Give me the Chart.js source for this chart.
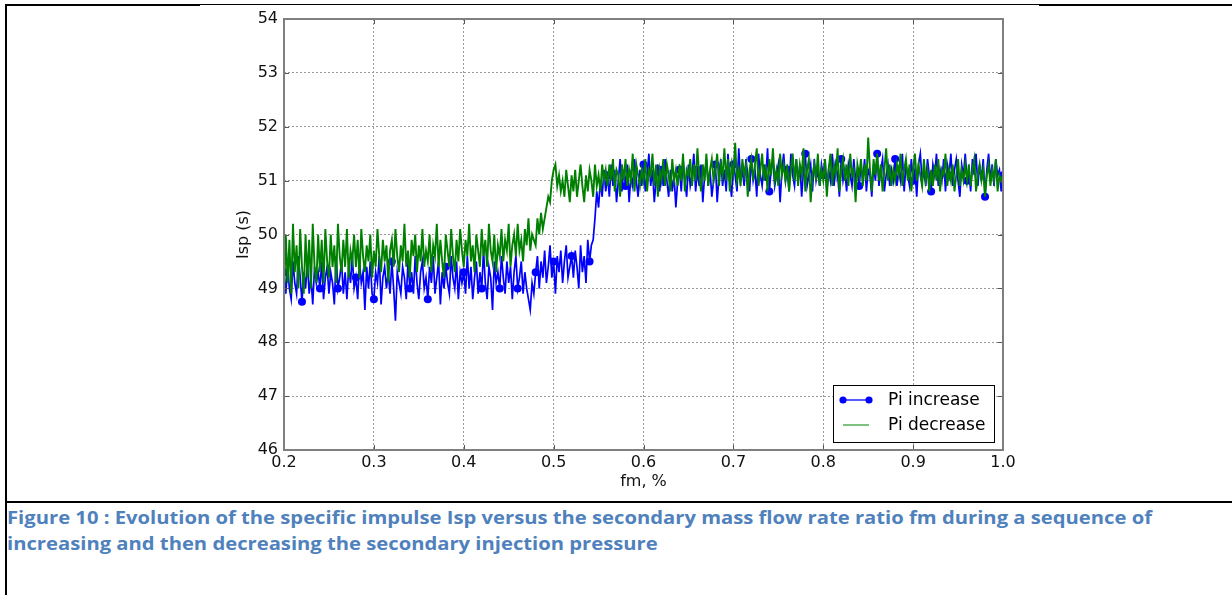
<!DOCTYPE html>
<html>
<head>
<meta charset="utf-8">
<script src="https://cdn.jsdelivr.net/npm/chart.js@4.4.1/dist/chart.umd.min.js"></script>
<style>
  html, body { margin: 0; padding: 0; background: #fff; }
  body { width: 1232px; height: 595px; position: relative; overflow: hidden; }
  .rule { position: absolute; background: #000; }
  #plot { position: absolute; left: 0; top: 0; }
  #caption {
    position: absolute; left: 7px; top: 505px;
    font-family: "Open Sans", Lato, sans-serif; font-weight: bold;
    font-size: 17px; line-height: 26px; color: #4f81bd;
  }
  #caption span { display: inline-block; white-space: nowrap; transform-origin: 0 50%; }
</style>
</head>
<body>
<div class="rule" style="left:5px;top:4px;width:195px;height:2px"></div>
<div class="rule" style="left:200px;top:4px;width:840px;height:1px"></div>
<div class="rule" style="left:1039px;top:4px;width:193px;height:2px"></div>
<div class="rule" style="left:5px;top:4px;width:2px;height:591px"></div>
<div class="rule" style="left:5px;top:501px;width:1227px;height:2px"></div>
<canvas id="plot" width="1232" height="500"></canvas>
<div id="caption">
  <span>Figure 10 : Evolution of the specific impulse Isp versus the secondary mass flow rate ratio fm during a sequence of</span><br>
  <span>increasing and then decreasing the secondary injection pressure</span>
</div>
<script>
// secondary mass flow rate ratio fm (%) — common abscissa of both runs
const FM = [
  0.200,0.202,0.204,0.206,0.208,0.210,0.212,0.214,0.216,0.218,0.220,0.222,0.224,0.226,0.228,0.230,0.232,0.234,0.236,0.238,
  0.240,0.242,0.244,0.246,0.248,0.250,0.252,0.254,0.256,0.258,0.260,0.262,0.264,0.266,0.268,0.270,0.272,0.274,0.276,0.278,
  0.280,0.282,0.284,0.286,0.288,0.290,0.292,0.294,0.296,0.298,0.300,0.302,0.304,0.306,0.308,0.310,0.312,0.314,0.316,0.318,
  0.320,0.322,0.324,0.326,0.328,0.330,0.332,0.334,0.336,0.338,0.340,0.342,0.344,0.346,0.348,0.350,0.352,0.354,0.356,0.358,
  0.360,0.362,0.364,0.366,0.368,0.370,0.372,0.374,0.376,0.378,0.380,0.382,0.384,0.386,0.388,0.390,0.392,0.394,0.396,0.398,
  0.400,0.402,0.404,0.406,0.408,0.410,0.412,0.414,0.416,0.418,0.420,0.422,0.424,0.426,0.428,0.430,0.432,0.434,0.436,0.438,
  0.440,0.442,0.444,0.446,0.448,0.450,0.452,0.454,0.456,0.458,0.460,0.462,0.464,0.466,0.468,0.470,0.472,0.474,0.476,0.478,
  0.480,0.482,0.484,0.486,0.488,0.490,0.492,0.494,0.496,0.498,0.500,0.502,0.504,0.506,0.508,0.510,0.512,0.514,0.516,0.518,
  0.520,0.522,0.524,0.526,0.528,0.530,0.532,0.534,0.536,0.538,0.540,0.542,0.544,0.546,0.548,0.550,0.552,0.554,0.556,0.558,
  0.560,0.562,0.564,0.566,0.568,0.570,0.572,0.574,0.576,0.578,0.580,0.582,0.584,0.586,0.588,0.590,0.592,0.594,0.596,0.598,
  0.600,0.602,0.604,0.606,0.608,0.610,0.612,0.614,0.616,0.618,0.620,0.622,0.624,0.626,0.628,0.630,0.632,0.634,0.636,0.638,
  0.640,0.642,0.644,0.646,0.648,0.650,0.652,0.654,0.656,0.658,0.660,0.662,0.664,0.666,0.668,0.670,0.672,0.674,0.676,0.678,
  0.680,0.682,0.684,0.686,0.688,0.690,0.692,0.694,0.696,0.698,0.700,0.702,0.704,0.706,0.708,0.710,0.712,0.714,0.716,0.718,
  0.720,0.722,0.724,0.726,0.728,0.730,0.732,0.734,0.736,0.738,0.740,0.742,0.744,0.746,0.748,0.750,0.752,0.754,0.756,0.758,
  0.760,0.762,0.764,0.766,0.768,0.770,0.772,0.774,0.776,0.778,0.780,0.782,0.784,0.786,0.788,0.790,0.792,0.794,0.796,0.798,
  0.800,0.802,0.804,0.806,0.808,0.810,0.812,0.814,0.816,0.818,0.820,0.822,0.824,0.826,0.828,0.830,0.832,0.834,0.836,0.838,
  0.840,0.842,0.844,0.846,0.848,0.850,0.852,0.854,0.856,0.858,0.860,0.862,0.864,0.866,0.868,0.870,0.872,0.874,0.876,0.878,
  0.880,0.882,0.884,0.886,0.888,0.890,0.892,0.894,0.896,0.898,0.900,0.902,0.904,0.906,0.908,0.910,0.912,0.914,0.916,0.918,
  0.920,0.922,0.924,0.926,0.928,0.930,0.932,0.934,0.936,0.938,0.940,0.942,0.944,0.946,0.948,0.950,0.952,0.954,0.956,0.958,
  0.960,0.962,0.964,0.966,0.968,0.970,0.972,0.974,0.976,0.978,0.980,0.982,0.984,0.986,0.988,0.990,0.992,0.994,0.996,0.998,
  1.000
];

// Isp (s) while the injection pressure goes up
const ISP_PI_INCREASE = [
  49.3,48.9,49.4,49.0,48.8,49.5,49.1,48.9,49.6,49.2,48.75,49.3,49.0,49.5,48.9,49.2,48.7,49.4,49.1,49.3,
  49.0,49.5,48.8,49.2,49.4,48.9,49.3,49.1,48.7,49.6,49.0,49.2,49.5,48.9,49.3,48.8,49.4,49.1,49.6,49.0,
  49.2,48.8,49.5,49.1,49.3,48.6,49.4,49.0,49.5,48.9,48.8,49.3,49.1,49.6,48.7,49.2,49.4,49.0,49.3,48.9,
  49.5,49.0,48.4,49.3,49.1,48.9,49.4,49.2,48.8,49.5,49.0,49.3,48.9,49.6,49.1,48.8,49.3,49.5,49.0,49.2,
  48.8,49.4,49.1,49.6,48.9,49.2,49.5,48.7,49.3,49.0,49.4,49.1,48.9,49.6,49.2,49.0,49.5,48.8,49.3,49.1,
  49.3,48.9,49.6,49.0,49.4,48.8,49.2,49.5,48.9,49.3,49.0,49.7,49.1,48.8,49.4,49.2,48.6,49.5,49.1,49.3,
  49.0,49.6,49.2,48.9,49.5,49.1,49.4,48.8,49.3,49.6,49.0,49.2,49.5,48.9,49.3,49.0,48.8,48.6,49.1,48.9,
  49.3,49.6,49.0,49.5,49.2,49.7,49.1,49.4,49.8,49.2,49.5,48.9,49.6,49.3,49.7,49.1,49.5,49.8,49.2,49.4,
  49.6,49.2,49.7,49.4,49.0,49.8,49.3,49.6,49.1,49.9,49.5,49.8,49.9,50.3,50.8,50.5,51.0,50.7,51.2,50.8,
  51.1,50.7,51.3,50.9,51.2,50.6,51.0,51.4,50.8,51.2,50.9,51.3,50.6,51.1,50.9,51.4,51.0,50.7,51.2,50.9,
  51.3,50.8,51.1,51.5,50.9,51.2,50.6,51.0,51.3,50.8,51.2,50.9,51.4,51.0,50.7,51.2,50.8,51.1,50.5,51.0,
  51.2,50.8,51.4,51.0,50.7,51.3,50.9,51.1,51.5,50.8,51.2,50.9,51.3,50.6,51.1,51.4,50.9,51.2,50.7,51.0,
  51.3,50.6,51.1,51.4,50.9,51.2,50.8,51.5,51.0,50.7,51.3,51.1,50.8,51.6,51.0,51.2,50.9,51.4,51.1,50.8,
  51.4,51.0,51.2,50.7,51.5,51.1,50.9,51.3,51.0,51.6,50.8,51.2,51.4,50.9,51.1,51.3,50.6,51.2,51.5,51.0,
  51.2,50.8,51.5,51.1,50.9,51.4,51.0,51.3,50.7,51.2,51.5,50.9,51.1,51.3,50.8,51.4,51.0,51.2,50.9,51.3,
  51.1,51.4,50.8,51.2,51.0,51.5,50.9,51.3,51.1,50.7,51.4,51.0,51.2,50.8,51.3,51.1,50.9,51.4,51.0,51.2,
  50.9,51.3,51.0,51.4,50.8,51.2,51.1,50.7,51.3,51.0,51.5,50.9,51.2,51.4,50.8,51.1,51.3,50.9,51.2,51.0,
  51.4,50.9,51.2,51.0,51.5,50.8,51.3,51.1,50.9,51.4,51.0,51.2,50.7,51.3,51.5,51.0,51.2,50.9,51.4,51.1,
  50.8,51.3,51.1,51.5,50.9,51.2,51.0,51.4,50.8,51.3,51.1,51.5,50.9,51.2,51.4,51.0,50.7,51.3,51.1,51.5,
  51.0,51.2,50.8,51.4,51.1,51.5,50.9,51.3,51.0,51.4,50.7,51.2,51.5,51.0,51.3,50.9,51.4,51.1,51.2,50.8,
  51.1
];

// Isp (s) while the injection pressure comes back down
const ISP_PI_DECREASE = [
  48.8,50.0,49.1,49.9,48.9,50.2,49.3,49.8,49.0,50.1,49.4,48.9,50.0,49.2,49.9,49.0,50.2,49.4,49.1,50.0,
  49.3,49.9,49.1,50.1,49.5,49.2,50.0,49.4,49.8,49.1,50.2,49.6,49.3,49.9,49.4,50.1,49.2,49.7,49.5,50.0,
  49.4,49.9,49.2,50.1,49.6,49.3,49.8,49.5,50.0,49.2,49.7,49.4,50.1,49.6,49.3,49.9,49.5,49.8,49.1,49.7,
  49.9,49.4,50.1,49.6,49.3,49.8,49.5,50.2,49.4,49.7,49.2,49.9,49.6,50.0,49.3,49.8,49.5,50.1,49.4,49.7,
  49.5,50.0,49.3,49.8,49.6,50.2,49.4,49.9,49.5,49.2,50.0,49.7,49.4,50.1,49.6,49.3,49.9,49.5,50.1,49.7,
  49.4,49.9,49.6,50.2,49.5,49.8,49.3,50.0,49.7,49.4,50.1,49.6,49.9,49.4,50.2,49.7,49.5,50.0,49.3,49.8,
  49.6,50.1,49.5,49.9,49.7,50.2,49.4,49.8,50.0,49.6,50.2,49.7,49.9,49.5,50.1,49.8,50.3,49.7,50.0,49.9,
  49.8,50.3,50.0,50.4,50.1,50.3,50.5,50.7,50.6,51.0,51.2,51.3,50.9,51.1,50.8,51.0,50.7,51.2,50.9,50.6,
  51.1,50.8,51.2,50.7,51.0,51.3,50.9,50.6,51.1,50.8,51.2,51.0,50.7,51.3,50.9,51.1,50.8,51.3,51.0,51.2,
  50.9,51.3,51.0,51.4,50.8,51.2,51.1,50.7,51.3,51.0,51.4,50.9,51.2,51.0,51.5,50.8,51.3,51.1,50.9,51.2,
  51.0,51.4,50.8,51.2,51.1,51.5,50.9,51.3,50.7,51.2,51.0,51.4,50.9,51.3,51.1,50.8,51.4,51.0,51.2,50.9,
  51.3,51.0,51.5,50.8,51.2,51.1,51.4,50.9,51.3,51.0,51.6,51.1,50.8,51.3,51.0,51.5,50.9,51.2,51.4,51.0,
  51.2,51.5,50.9,51.3,51.1,51.6,51.0,51.4,50.8,51.3,51.1,51.7,51.0,51.2,50.9,51.4,51.1,51.3,50.7,51.2,
  51.4,51.0,51.3,51.6,50.9,51.2,51.5,51.0,51.3,50.8,51.4,51.1,51.6,51.0,51.2,50.9,51.5,51.1,51.3,51.0,
  51.3,50.8,51.2,51.5,51.0,51.4,50.9,51.3,51.1,51.6,50.8,51.2,51.4,50.6,51.1,51.3,51.0,51.5,50.9,51.2,
  51.0,51.4,50.7,51.2,51.5,50.9,51.3,51.1,51.6,50.8,51.2,51.4,51.0,51.3,50.9,51.5,51.1,51.2,50.6,51.3,
  51.1,51.4,50.9,51.3,51.0,51.8,51.2,50.8,51.4,51.1,51.5,51.0,51.3,50.8,51.2,51.6,51.0,51.3,50.9,51.2,
  51.0,51.3,51.1,51.5,50.9,51.2,51.4,51.0,51.3,50.8,51.2,51.5,51.0,51.3,51.1,50.9,51.4,51.0,51.2,50.8,
  51.2,50.9,51.3,51.0,51.4,50.8,51.2,51.1,51.5,50.9,51.2,51.0,51.3,50.8,51.1,51.4,50.9,51.2,51.0,51.3,
  51.0,51.3,50.9,51.2,51.4,50.8,51.1,51.3,51.0,51.2,50.7,51.1,51.3,50.9,51.2,51.0,51.4,50.8,51.1,51.0,
  51.1
];

const SERIES_LABELS = ['Pi increase', 'Pi decrease'];
const X_RANGE = [0.2, 1.0];
const Y_RANGE = [46, 54];

const TICK_FONT = { family: 'DejaVu Sans', size: 16 };
const MARK_EVERY = 10;

// matplotlib-ish frame with inward ticks on all four sides
const framePlugin = {
  id: 'mplFrame',
  afterDatasetsDraw(chart) {
    const { ctx, chartArea: a, scales } = chart;
    ctx.save();
    ctx.strokeStyle = '#555';
    ctx.lineWidth = 1;
    ctx.beginPath();
    scales.x.ticks.forEach(t => {
      const px = Math.round(scales.x.getPixelForValue(t.value)) + 0.5;
      ctx.moveTo(px, a.bottom); ctx.lineTo(px, a.bottom - 5);
      ctx.moveTo(px, a.top); ctx.lineTo(px, a.top + 5);
    });
    scales.y.ticks.forEach(t => {
      const py = Math.round(scales.y.getPixelForValue(t.value)) + 0.5;
      ctx.moveTo(a.left, py); ctx.lineTo(a.left + 5, py);
      ctx.moveTo(a.right, py); ctx.lineTo(a.right - 5, py);
    });
    ctx.stroke();
    ctx.strokeStyle = '#7f7f7f';
    ctx.lineWidth = 2;
    ctx.strokeRect(a.left, a.top, a.right - a.left, a.bottom - a.top);
    ctx.restore();
  },
};

// boxed legend in the lower right corner of the axes
const legendPlugin = {
  id: 'mplLegend',
  afterDraw(chart) {
    const { ctx, chartArea: a } = chart;
    const w = 161, h = 57;
    const x = a.right - 9 - w, y = a.bottom - 8 - h;
    ctx.save();
    ctx.fillStyle = '#fff';
    ctx.fillRect(x, y, w, h);
    ctx.strokeStyle = '#000';
    ctx.lineWidth = 1;
    ctx.strokeRect(x + 0.5, y + 0.5, w, h);
    ctx.font = '17px "DejaVu Sans"';
    ctx.textBaseline = 'middle';
    chart.data.datasets.forEach((ds, i) => {
      const yy = y + 15 + i * 25;
      ctx.strokeStyle = ds.borderColor;
      ctx.lineWidth = i === 0 ? 1.3 : 1;
      ctx.beginPath();
      ctx.moveTo(x + 10, yy); ctx.lineTo(x + 36, yy);
      ctx.stroke();
      if (i === 0) {
        ctx.fillStyle = ds.borderColor;
        [x + 10, x + 36].forEach(cx => {
          ctx.beginPath(); ctx.arc(cx, yy, 3.6, 0, Math.PI * 2); ctx.fill();
        });
      }
      ctx.fillStyle = '#000';
      ctx.fillText(ds.label, x + 55, yy + 1);
    });
    ctx.restore();
  },
};

new Chart(document.getElementById('plot'), {
  type: 'line',
  data: {
    labels: FM,
    datasets: [
      {
        label: SERIES_LABELS[0],
        data: ISP_PI_INCREASE,
        order: 1,
        borderColor: '#0000ff',
        backgroundColor: '#0000ff',
        borderWidth: 1.7,
        pointRadius: c => (c.dataIndex % MARK_EVERY === 0 ? 4 : 0),
        pointBorderWidth: 0,
        pointBackgroundColor: '#0000ff',
        tension: 0,
      },
      {
        label: SERIES_LABELS[1],
        data: ISP_PI_DECREASE,
        order: 0,
        borderColor: '#008000',
        backgroundColor: '#008000',
        borderWidth: 1.9,
        pointRadius: 0,
        tension: 0,
      },
    ],
  },
  options: {
    responsive: false,
    animation: false,
    devicePixelRatio: 1,
    layout: { padding: { left: 0, right: 229, top: 19, bottom: 0 } },
    plugins: { legend: { display: false }, tooltip: { enabled: false } },
    scales: {
      x: {
        type: 'linear',
        min: X_RANGE[0],
        max: X_RANGE[1],
        afterFit: s => { s.height = 50; },
        ticks: {
          stepSize: 0.1,
          autoSkip: false,
          maxRotation: 0,
          padding: 3,
          color: '#111',
          font: TICK_FONT,
          callback: v => v.toFixed(1),
        },
        grid: { color: '#9a9a9a', lineWidth: 1, drawTicks: false },
        border: { display: false, dash: [2, 2] },
        title: {
          display: true, text: 'fm, %', color: '#111', font: TICK_FONT,
          padding: { top: 0, bottom: 9 },
        },
      },
      y: {
        min: Y_RANGE[0],
        max: Y_RANGE[1],
        afterFit: s => { s.width = 284; },
        ticks: {
          stepSize: 1,
          padding: 6,
          color: '#111',
          font: TICK_FONT,
        },
        grid: { color: '#9a9a9a', lineWidth: 1, drawTicks: false },
        border: { display: false, dash: [2, 2] },
        title: {
          display: true, text: 'Isp (s)', color: '#111', font: TICK_FONT,
          padding: { top: 234, bottom: 0 },
        },
      },
    },
  },
  plugins: [framePlugin, legendPlugin],
});

// stretch the caption lines to the width Word gave them
(function fitCaption() {
  const spans = document.querySelectorAll('#caption span');
  const k = 1145 / spans[0].getBoundingClientRect().width;
  spans.forEach(s => { s.style.transform = 'scaleX(' + k + ')'; });
})();
</script>
</body>
</html>
